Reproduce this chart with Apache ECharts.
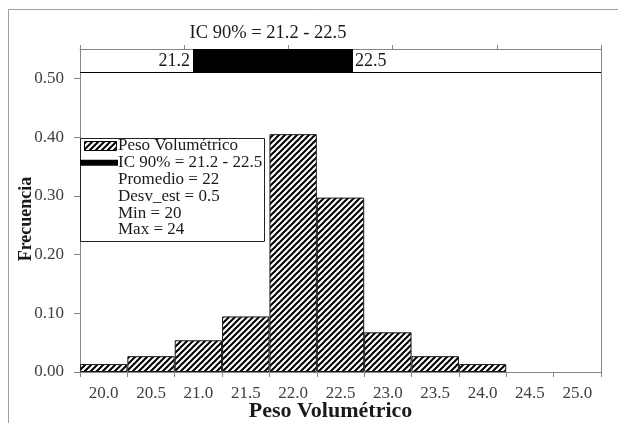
<!DOCTYPE html>
<html><head><meta charset="utf-8">
<script src="https://cdn.jsdelivr.net/npm/echarts@6/dist/echarts.min.js"></script>
<style>html,body{margin:0;padding:0;background:#fff}#c{width:618px;height:423px}</style>
</head><body><div id="c"></div>
<script>
const categories = ['20.0','20.5','21.0','21.5','22.0','22.5','23.0','23.5','24.0','24.5','25.0'];
const frecuencia = [0.0135, 0.027, 0.054, 0.0946, 0.405, 0.297, 0.0676, 0.027, 0.0135, 0, 0];
const icRange = [21.2, 22.5];
const icTitle = 'IC 90% = 21.2 - 22.5';
const yTicks = [0, 0.1, 0.2, 0.3, 0.4, 0.5];
const legendStats = ['Promedio = 22', 'Desv_est = 0.5', 'Min = 20', 'Max = 24'];

const SERIF = '"Liberation Serif", "Times New Roman", serif';
const GRAY = '#868686';

function hatch() {
  const c = document.createElement('canvas');
  c.width = 6; c.height = 6;
  const g = c.getContext('2d');
  g.fillStyle = '#fff'; g.fillRect(0, 0, 6, 6);
  g.strokeStyle = '#000'; g.lineWidth = 2;
  g.beginPath();
  g.moveTo(0, 6); g.lineTo(6, 0);
  g.moveTo(-3, 3); g.lineTo(3, -3);
  g.moveTo(3, 9); g.lineTo(9, 3);
  g.stroke();
  return c;
}
const hatchPattern = { image: hatch(), repeat: 'repeat' };

const chart = echarts.init(document.getElementById('c'), null, { renderer: 'canvas' });

const legendY0 = 146, legendDy = 16.8;
const legendGraphics = [
  { type: 'rect', shape: { x: 80.5, y: 138.5, width: 184, height: 103 }, style: { fill: '#fff', stroke: '#222', lineWidth: 1 }, z: 100 },
  { type: 'rect', shape: { x: 84.5, y: legendY0 - 4.5, width: 32, height: 9 }, style: { fill: hatchPattern, stroke: '#000', lineWidth: 1 }, z: 101 },
  { type: 'rect', shape: { x: 80, y: legendY0 + legendDy - 3, width: 38, height: 6 }, style: { fill: '#000' }, z: 101 },
  { type: 'text', x: 118, y: legendY0, style: { text: 'Peso Volumétrico', font: '17px ' + SERIF, fill: '#1a1a1a', verticalAlign: 'middle' }, z: 101 },
  { type: 'text', x: 118, y: legendY0 + legendDy, style: { text: icTitle, font: '17px ' + SERIF, fill: '#1a1a1a', verticalAlign: 'middle' }, z: 101 }
];
legendStats.forEach((t, i) => {
  legendGraphics.push({ type: 'text', x: 118, y: legendY0 + legendDy * (i + 2), style: { text: t, font: '17px ' + SERIF, fill: '#1a1a1a', verticalAlign: 'middle' }, z: 101 });
});

const option = {
  animation: false,
  backgroundColor: '#fff',
  grid: { left: 80, right: 17, top: 49, bottom: 51, containLabel: false, outerBoundsMode: 'none' },
  xAxis: [
    {
      type: 'category', data: categories, position: 'bottom', boundaryGap: true,
      axisLine: { lineStyle: { color: GRAY, width: 1 } },
      axisTick: { show: true, interval: 0, alignWithLabel: false, length: 5, lineStyle: { color: GRAY } },
      axisLabel: { interval: 0, margin: 13, fontFamily: SERIF, fontSize: 17, color: '#404040' },
      name: 'Peso Volumétrico', nameLocation: 'middle', nameGap: 28, nameMoveOverlap: false,
      nameTextStyle: { fontFamily: SERIF, fontSize: 22, fontWeight: 'bold', color: '#1a1a1a', padding: [0, 20, 0, 0] }
    },
    {
      type: 'value', position: 'top', min: 0, max: 5, interval: 1,
      axisLine: { show: true, onZero: false, lineStyle: { color: GRAY, width: 1 } },
      axisTick: { show: true, inside: false, length: 4, lineStyle: { color: GRAY } },
      axisLabel: { show: false }, splitLine: { show: false }
    },
    { type: 'value', position: 'top', min: 20.282, max: 24.515, show: false, axisLine: { onZero: false } }
  ],
  yAxis: [
    {
      type: 'value', min: 0, max: 0.55, interval: 0.1,
      axisLine: { show: true, lineStyle: { color: GRAY, width: 1 } },
      axisTick: { show: true, length: 6, lineStyle: { color: GRAY }, customValues: yTicks },
      axisLabel: { customValues: yTicks, margin: 16, fontFamily: SERIF, fontSize: 17, color: '#404040', formatter: v => v.toFixed(2) },
      splitLine: { show: false },
      name: 'Frecuencia', nameLocation: 'middle', nameGap: 45, nameRotate: 90, nameMoveOverlap: false,
      nameTextStyle: { fontFamily: SERIF, fontSize: 18, fontWeight: 'bold', color: '#1a1a1a', padding: [0, 17, 0, 0] }
    },
    {
      type: 'value', position: 'right', min: 0, max: 0.55,
      axisLine: { show: true, onZero: false, lineStyle: { color: GRAY, width: 1 } },
      axisTick: { show: false }, axisLabel: { show: false }, splitLine: { show: false }
    }
  ],
  series: [
    {
      name: 'Peso Volumétrico', type: 'bar', xAxisIndex: 0, yAxisIndex: 0,
      data: frecuencia.map(v => v === 0 ? { value: v, itemStyle: { borderWidth: 0 } } : v),
      barCategoryGap: '0%',
      itemStyle: { color: hatchPattern, borderColor: '#1a1a1a', borderWidth: 1 }
    },
    {
      name: icTitle, type: 'custom', xAxisIndex: 2, yAxisIndex: 0,
      data: [icRange],
      renderItem: function (params, api) {
        const cs = params.coordSys;
        const lineVal = 0.51;
        const p1 = api.coord([api.value(0), 0.55]);
        const p2 = api.coord([api.value(1), lineVal]);
        const midY = (p1[1] + p2[1]) / 2;
        return {
          type: 'group', children: [
            { type: 'line', shape: { x1: cs.x, y1: Math.round(p2[1]) + 0.5, x2: cs.x + cs.width, y2: Math.round(p2[1]) + 0.5 }, style: { stroke: '#000', lineWidth: 1 } },
            { type: 'rect', shape: { x: p1[0], y: p1[1], width: p2[0] - p1[0], height: p2[1] - p1[1] }, style: { fill: '#000' } },
            { type: 'text', style: { text: api.value(0).toFixed(1), x: p1[0] - 3, y: midY + 1, align: 'right', verticalAlign: 'middle', font: '18px ' + SERIF, fill: '#1a1a1a' } },
            { type: 'text', style: { text: api.value(1).toFixed(1), x: p2[0] + 2, y: midY + 1, align: 'left', verticalAlign: 'middle', font: '18px ' + SERIF, fill: '#1a1a1a' } },
            { type: 'text', style: { text: icTitle, x: (p1[0] + p2[0]) / 2 - 5, y: p1[1] - 16, align: 'center', verticalAlign: 'middle', font: '18.5px ' + SERIF, fill: '#1a1a1a' } }
          ]
        };
      }
    }
  ],
  graphic: [
    { type: 'rect', shape: { x: 8.5, y: 9.5, width: 700, height: 500 }, style: { fill: 'none', stroke: '#a0a0a0', lineWidth: 1 }, z: -10, silent: true }
  ].concat(legendGraphics)
};
chart.setOption(option);
</script>
</body></html>
